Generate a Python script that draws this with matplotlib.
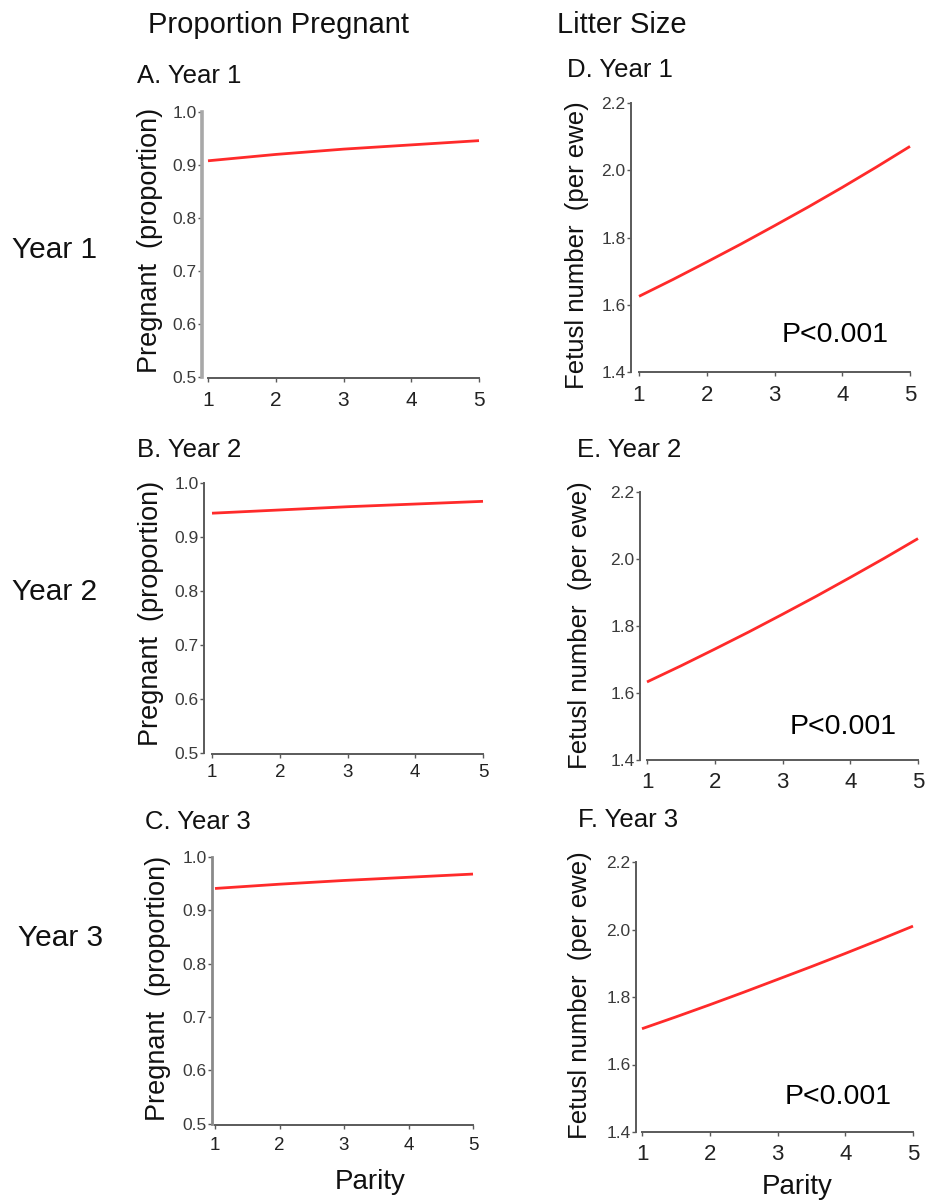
import numpy as np
import matplotlib
matplotlib.use("Agg")
import matplotlib.pyplot as plt

plt.rcParams["font.family"] = ["Liberation Sans", "DejaVu Sans"]

# ---- data -------------------------------------------------------------
parity = [1, 2, 3, 4, 5]
parity_fine = [1, 1.5, 2, 2.5, 3, 3.5, 4, 4.5, 5]

preg_year1 = [0.908, 0.920, 0.930, 0.938, 0.946]
preg_year2 = [0.944, 0.950, 0.956, 0.961, 0.966]
preg_year3 = [0.941, 0.949, 0.956, 0.962, 0.968]

fetus_year1 = [1.625, 1.675, 1.727, 1.780, 1.835, 1.891, 1.949, 2.009, 2.071]
fetus_year2 = [1.633, 1.681, 1.731, 1.782, 1.835, 1.889, 1.945, 2.002, 2.061]
fetus_year3 = [1.706, 1.741, 1.777, 1.814, 1.852, 1.890, 1.929, 1.969, 2.010]

preg_ticks = [0.5, 0.6, 0.7, 0.8, 0.9, 1.0]
fetus_ticks = [1.4, 1.6, 1.8, 2.0, 2.2]

col_titles = ["Proportion Pregnant", "Litter Size"]
row_titles = ["Year 1", "Year 2", "Year 3"]
preg_titles = ["A. Year 1", "B. Year 2", "C. Year 3"]
fetus_titles = ["D. Year 1", "E. Year 2", "F. Year 3"]
p_label = "P<0.001"

# ---- figure -----------------------------------------------------------
W, H = 930, 1203
fig = plt.figure(figsize=(W / 100, H / 100), dpi=100)

RED = "#ff2a2a"
SPINE = "#5a5a5a"
TICKC = "#3a3a3a"


def fx(x):
    return x / W


def fy(y):
    return 1 - y / H


def text(x, y, s, size, ha="left", va="center", rot=0, color="#111111"):
    fig.text(fx(x), fy(y), s, fontsize=size, ha=ha, va=va, rotation=rot,
             color=color)


def panel(left, right, top, bottom, xfirst, xlast_px, ylo, yhi,
          yticks, xs, ys, ylabel, xtick_size, ylabel_pos, left_spine,
          ylabel_size, xpad=6):
    # x axis runs 1..5 with x=1 at xfirst px and x=5 at xlast_px
    ppu = (xlast_px - xfirst) / 4.0
    xlo = 1 - (xfirst - left) / ppu
    xhi = 5 + (right - xlast_px) / ppu
    ax = fig.add_axes([fx(left), fy(bottom), fx(right - left),
                       (bottom - top) / H])
    ax.set_xlim(xlo, xhi)
    ax.set_ylim(ylo, yhi)
    ax.plot(xs, ys, color=RED, lw=2.0, solid_capstyle="butt")
    for s in ("top", "right"):
        ax.spines[s].set_visible(False)
    ax.spines["bottom"].set_bounds(1, 5)
    ax.spines["left"].set_bounds(yticks[0], yticks[-1])
    ax.spines["bottom"].set_color(SPINE)
    ax.spines["bottom"].set_linewidth(1.4)
    ax.spines["left"].set_color(left_spine[0])
    ax.spines["left"].set_linewidth(left_spine[1])
    ax.set_xticks(parity)
    ax.set_yticks(yticks)
    ax.set_yticklabels([f"{v:.1f}" for v in yticks])
    ax.tick_params(axis="y", direction="out", length=3, width=1,
                   color=SPINE, labelsize=12.5, labelcolor=TICKC, pad=1)
    ax.tick_params(axis="x", direction="out", length=3, width=1,
                   color=SPINE, labelsize=xtick_size, labelcolor="#222222",
                   pad=xpad)
    ax.patch.set_alpha(0)
    text(ylabel_pos[0], ylabel_pos[1], ylabel, ylabel_size, ha="center",
         va="center", rot=90)
    return ax


# column and row headings
text(148, 25, col_titles[0], 21)
text(557, 25, col_titles[1], 21)
text(12, 250, row_titles[0], 21.5)
text(12, 592, row_titles[1], 21.5)
text(18, 938, row_titles[2], 21.5)

# proportion pregnant panels
panel(202, 480, 112, 378, 208, 479, 0.4985, 1.0, preg_ticks,
      parity, preg_year1, "Pregnant  (proportion)", 15, (150, 240),
      ("#a8a8a8", 2.6), 19.5)
text(137, 76, preg_titles[0], 18.5)

panel(204, 484, 483, 754, 212, 483, 0.4975, 1.0, preg_ticks,
      parity, preg_year2, "Pregnant  (proportion)", 13.5, (151, 613),
      (SPINE, 1.4), 19.5, xpad=4)
text(137, 450, preg_titles[1], 18.5)

panel(212, 485, 857, 1125, 215, 473, 0.4975, 1.0, preg_ticks,
      parity, preg_year3, "Pregnant  (proportion)", 13.5, (158, 988),
      ("#8a8a8a", 2.0), 19.5)
text(145, 822, preg_titles[2], 18.5)
text(335, 1182, "Parity", 20)

# fetus number panels
panel(631, 912, 103, 372, 639, 910, 1.4, 2.2, fetus_ticks,
      parity_fine, fetus_year1, "Fetusl number  (per ewe)", 16, (577, 245),
      (SPINE, 1.4), 18.5)
text(567, 70, fetus_titles[0], 18.5)
text(782, 335, p_label, 20.5, color="black")

panel(640, 920, 492, 760, 647, 918, 1.4, 2.2, fetus_ticks,
      parity_fine, fetus_year2, "Fetusl number  (per ewe)", 16, (580, 625),
      (SPINE, 1.4), 18.5)
text(577, 450, fetus_titles[1], 18.5)
text(790, 727, p_label, 20.5, color="black")

panel(636, 915, 862, 1132, 642, 913, 1.4, 2.2, fetus_ticks,
      parity_fine, fetus_year3, "Fetusl number  (per ewe)", 16, (580, 995),
      (SPINE, 1.4), 18.5)
text(578, 820, fetus_titles[2], 18.5)
text(785, 1097, p_label, 20.5, color="black")
text(762, 1187, "Parity", 20)

fig.savefig("out.png", dpi=100)
